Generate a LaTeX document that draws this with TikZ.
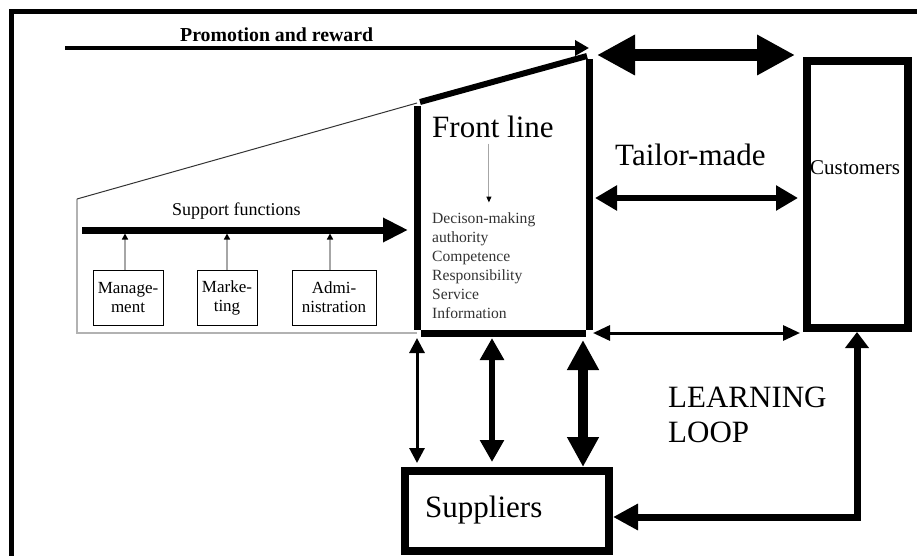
\documentclass[tikz,border=0pt]{standalone}
\usepackage{fontspec}
\setmainfont{Liberation Serif}
\usetikzlibrary{arrows.meta}

\begin{document}
\begin{tikzpicture}[x=1pt,y=-1pt,line join=miter,
    bigbox/.style={draw,line width=8pt,inner sep=0pt},
    unitbox/.style={draw,line width=1pt,align=center,inner sep=0pt,
      minimum height=55pt,font=\fontsize{17}{19}\selectfont},
    lbl/.style={inner sep=0pt,anchor=base west},
    big/.style={font=\fontsize{31}{35}\selectfont},
    feed/.style={draw=gray!70,line width=1.5pt,-{Triangle[length=6pt,width=6pt,black]},shorten >=3.5pt}]
  \useasboundingbox (0,0) rectangle (917,556);
  \draw[line width=5pt] (11,560) -- (11,11.5) -- (920,11.5);

  % customers and suppliers
  \node[bigbox,minimum width=101pt,minimum height=267pt] (cust) at (857.5,194.5) {};
  \node[lbl,font=\fontsize{21}{25}\selectfont] (custtxt) at (810,175) {Customers};
  \node[bigbox,minimum width=204pt,minimum height=80pt] (sup) at (507,511) {};
  \node[lbl,big] (suptxt) at (425,517) {Suppliers};

  % front line
  \coordinate (fl-nw) at (417,103);
  \coordinate (fl-ne) at (589,57);
  \coordinate (fl-sw) at (417,333);
  \coordinate (fl-s) at (492,333);
  \coordinate (fl-se) at (589,333);
  \draw[line width=7pt,shorten <=3pt,shorten >=3.5pt] (fl-nw) -- (fl-sw);
  \draw[line width=7pt,shorten <=2pt,shorten >=3.5pt] (fl-ne) -- (fl-se);
  \draw[line width=7pt,shorten <=3.5pt,shorten >=3.5pt] (fl-sw) -- (fl-se);
  \draw[line width=6pt] ([xshift=3pt,yshift=1pt]fl-nw) -- ([xshift=-2pt,yshift=1pt]fl-ne);
  \draw[gray!60,line width=1.5pt] (fl-sw) -- (77,333) coordinate (sa-sw) -- (77,199) coordinate (sa-nw);
  \draw[black!80,line width=1pt] (sa-nw) -- (fl-nw);

  \node[lbl,big] (fltxt) at (432,138) {Front line};
  \node[inner sep=0pt,anchor=north west,align=left,text=black!80,
    font=\fontsize{15.6}{19}\selectfont] (fllist) at (432,212.5)
    {Decison-making\\authority\\Competence\\Responsibility\\Service\\Information};
  \draw[gray!70,line width=1pt,-{Triangle[length=6pt,width=5pt,black]},shorten <=5pt,shorten >=10pt]
    ([xshift=-4pt]fltxt.south) -- ([xshift=-4pt]fltxt.south |- fllist.north);

  \node[lbl,big] (tailor) at (615,165) {Tailor-made};
  \node[inner sep=0pt,anchor=north west,align=left,font=\fontsize{31}{35}\selectfont]
    (learn) at (668,386.5) {LEARNING\\LOOP};

  % promotion and reward
  \coordinate (pr-w) at (65,48);
  \node[lbl,font=\bfseries\fontsize{19.8}{23}\selectfont] (prtxt) at (180,42) {Promotion and reward};
  \draw[line width=4pt,-{Triangle[length=14pt,width=15pt]}] (pr-w) -- (fl-ne |- pr-w);

  % support functions
  \coordinate (sf-w) at (82,230);
  \node[lbl,font=\fontsize{18}{22}\selectfont] (sftxt) at (172,215) {Support functions};
  \draw[line width=7pt,-{Triangle[length=25pt,width=23pt]},shorten >=9pt] (sf-w) -- (fl-sw |- sf-w);
  \node[unitbox,minimum width=70pt] (mgmt) at (128,297.5) {Manage-\\ment};
  \node[unitbox,minimum width=60pt] (mkt) at (227,297.5) {Marke-\\ting};
  \node[unitbox,minimum width=84pt] (admin) at (334,297.5) {Admi-\\nistration};
  \draw[feed] ([xshift=-3pt]mgmt.north) -- ([xshift=-3pt]mgmt.north |- sf-w);
  \draw[feed] (mkt.north) -- (mkt.north |- sf-w);
  \draw[feed] ([xshift=-4pt]admin.north) -- ([xshift=-4pt]admin.north |- sf-w);

  % front line <-> customers
  \draw[line width=12pt,{Triangle[length=38pt,width=38pt]}-{Triangle[length=38pt,width=38pt]},
    shorten <=8pt,shorten >=8pt] (fl-ne |- 0,55) -- (cust.west |- 0,55);
  \draw[line width=6pt,{Triangle[length=22pt,width=24pt]}-{Triangle[length=22pt,width=24pt]},
    shorten <=6pt,shorten >=5pt] (fl-ne |- 0,198) -- (cust.west |- 0,198);
  \draw[line width=3pt,{Triangle[length=17pt,width=15pt]}-{Triangle[length=17pt,width=15pt]},
    shorten <=4pt,shorten >=3pt] (fl-se) -- (cust.west |- fl-se);

  % front line <-> suppliers
  \draw[line width=3pt,{Triangle[length=15pt,width=15pt]}-{Triangle[length=15pt,width=15pt]},
    shorten <=5pt,shorten >=4pt] (fl-sw) -- (fl-sw |- sup.north);
  \draw[line width=6pt,{Triangle[length=22pt,width=23pt]}-{Triangle[length=22pt,width=23pt]},
    shorten <=5pt,shorten >=5pt] (fl-s) -- (fl-s |- sup.north);
  \draw[line width=10pt,{Triangle[length=30pt,width=30pt]}-{Triangle[length=30pt,width=30pt]},
    shorten <=7pt] ([xshift=-6pt]fl-se) -- ([xshift=-6pt]fl-se |- sup.north);

  % learning loop
  \draw[line width=7pt,{Triangle[length=25pt,width=25pt]}-{Triangle[length=16pt,width=23pt]}]
    (sup.east |- 0,517) -- (857,517) -- (cust.south -| 857,0);
\end{tikzpicture}
\end{document}
